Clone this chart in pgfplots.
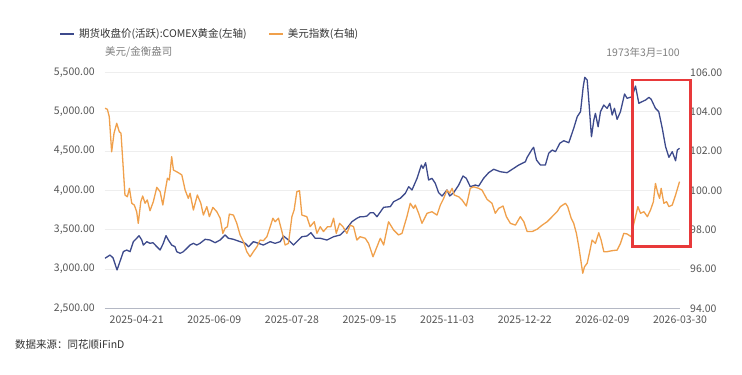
\documentclass[border=0pt]{standalone}
\usepackage{fontspec}
\setmainfont{Noto Sans CJK SC}
\usepackage{pgfplots}
\pgfplotsset{compat=1.18}
\definecolor{goldc}{HTML}{3D4A8C}
\definecolor{usdc}{HTML}{F0A04B}
\definecolor{tickc}{HTML}{555555}
\definecolor{gridc}{HTML}{EEEEEE}
\definecolor{axisc}{HTML}{B4B8C4}
\definecolor{boxred}{HTML}{E8393A}
\definecolor{legc}{HTML}{333333}
\definecolor{unitc}{HTML}{808080}

\pgfplotstableread{
d v
0 3136
3.2 3177
5.1 3140
7.6 2987
11.6 3220
13.7 3241
15.8 3220
17.9 3347
20.0 3390
21.5 3423
23.2 3368
24.2 3304
26.4 3347
28.4 3326
30.3 3334
32.7 3283
34.8 3241
36.8 3326
38.5 3423
40.0 3368
42.1 3304
44.2 3283
45.3 3220
47.4 3199
49.5 3220
51.6 3262
53.7 3304
55.8 3326
57.9 3304
60.0 3326
63.2 3377
66.3 3368
69.5 3334
72.7 3368
75.8 3432
77.9 3390
81.1 3377
85.3 3347
88.5 3326
90.6 3283
93.7 3347
96.9 3326
100.0 3304
104.3 3347
107.4 3326
110.6 3347
112.7 3419
115.8 3368
119.0 3304
121.1 3347
124.3 3410
127.5 3419
130.0 3461
132.7 3390
135.9 3390
140.1 3368
144.3 3410
148.5 3432
152.7 3517
155.9 3601
159.0 3644
161.1 3664
163.2 3664
165.4 3673
167.5 3715
169.5 3715
171.7 3664
175.9 3784
180.1 3792
182.2 3855
186.4 3898
189.6 3962
191.7 4046
193.8 4004
197.0 4152
199.7 4321
200.8 4279
202.4 4351
204.3 4131
206.4 4152
208.5 4089
210.6 3970
212.8 3927
215.9 4004
217.6 3927
220.1 3970
223.3 4067
226.0 4182
228.1 4152
230.6 4046
233.8 4067
235.9 4054
239.0 4152
242.2 4224
245.4 4267
249.6 4236
253.8 4224
258.0 4279
261.2 4321
265.4 4363
266.5 4419
269.6 4521
270.6 4546
272.4 4385
274.9 4321
278.0 4321
280.1 4470
282.3 4512
284.4 4491
287.1 4597
289.6 4630
292.8 4605
295.9 4788
298.1 4935
300.2 4999
301.9 5317
302.9 5436
304.4 5402
305.4 5148
307.1 4681
308.6 4893
309.6 4978
311.3 4808
312.8 4999
314.9 5084
317.0 5042
318.7 5106
320.2 4957
321.6 5042
323.3 4902
325.4 4999
328.0 5224
329.6 5169
332.8 5190
334.9 5326
337.0 5106
339.1 5127
341.3 5148
343.4 5182
344.8 5157
347.5 5042
349.6 4999
351.8 4788
353.9 4554
356.0 4419
358.1 4491
360.2 4376
361.3 4512
362.7 4534
}\golddata

\pgfplotstableread{
d v
0 104.17
1.5 104.12
2.7 103.74
4.2 101.96
5.7 102.90
7.4 103.41
9.0 102.98
10.1 102.90
11.6 101.03
12.6 99.76
14.1 99.67
15.4 100.10
16.9 99.34
18.5 99.25
20.0 98.91
21.0 98.32
22.6 99.42
23.8 99.71
25.3 99.34
26.7 99.51
28.4 98.96
30.5 99.42
32.7 100.15
34.8 99.93
36.5 99.25
37.9 99.93
39.4 100.61
40.6 100.52
42.1 101.71
43.2 101.03
45.3 100.94
47.0 100.86
48.5 100.78
50.6 100.01
52.6 99.59
53.7 99.85
55.8 99.00
58.3 99.76
60.5 99.34
62.1 98.74
64.3 99.17
65.9 98.66
68.1 99.13
70.6 98.91
72.7 98.58
74.4 97.81
75.8 98.07
77.3 98.15
78.5 98.79
81.1 98.74
83.2 98.32
85.3 97.73
87.4 97.39
89.5 96.88
91.6 96.62
93.7 96.88
95.9 97.13
97.9 97.47
100.0 97.44
102.2 97.64
104.3 98.15
106.0 98.58
107.4 98.40
109.5 98.58
111.7 97.90
113.7 97.22
115.8 97.30
118.0 98.66
119.4 99.00
121.1 99.93
122.8 99.98
124.3 98.74
127.4 98.66
129.5 98.15
132.1 98.40
133.8 97.81
135.9 98.15
137.9 97.90
140.5 98.15
142.6 98.15
144.3 98.58
146.0 97.81
148.1 98.32
150.2 98.15
152.7 97.81
154.8 98.23
156.9 98.15
159.0 97.47
161.1 97.64
164.3 97.56
166.4 97.30
169.2 96.62
171.7 97.13
173.8 97.56
175.9 97.22
179.0 98.40
182.2 97.98
185.3 97.73
187.5 97.81
190.6 98.66
192.7 99.34
194.8 99.08
195.9 99.25
198.0 98.83
200.1 98.32
203.3 98.83
206.4 98.91
209.6 98.74
211.7 99.25
213.8 99.59
215.9 100.01
217.6 99.85
219.1 100.10
220.5 99.76
223.3 99.67
225.4 99.51
228.1 99.20
230.6 100.10
232.7 100.18
235.9 100.10
238.0 100.01
241.2 99.54
244.3 99.34
246.4 98.83
248.5 99.08
251.3 99.20
253.4 98.66
255.9 98.32
259.1 98.23
262.2 98.66
264.4 98.40
266.5 97.90
269.6 97.90
272.8 98.02
276.0 98.23
279.1 98.40
282.3 98.66
285.4 98.91
287.5 99.17
290.7 99.34
292.1 99.17
294.3 98.58
295.9 98.32
297.6 97.81
299.1 97.13
300.2 96.54
301.6 95.78
302.7 96.11
304.4 96.29
306.0 96.88
307.5 97.47
309.6 97.30
311.7 97.84
313.2 97.47
314.9 96.88
317.0 96.88
320.2 96.93
323.3 96.96
325.4 97.30
327.5 97.81
329.6 97.78
332.2 97.64
333.4 98.15
334.9 98.66
336.4 99.17
338.1 98.83
340.2 98.91
342.4 98.66
344.4 99.00
346.2 99.42
347.5 100.35
349.0 99.85
350.1 99.59
351.1 100.10
352.8 99.34
354.5 99.42
356.0 99.17
358.1 99.25
360.2 99.76
362.7 100.44
}\usddata

\begin{document}
\begin{tikzpicture}[x=1pt,y=1pt]
\useasboundingbox[fill=white] (0,0) rectangle (742,375);
\pgfplotsset{
  common/.style={
    at={(105pt,66.7pt)}, anchor=south west,
    scale only axis, width=575pt, height=236pt,
    xmin=0, xmax=363,
    major tick length=0pt,
    tick label style={font=\fontsize{10.5}{12}\selectfont, text=tickc, inner sep=0pt},
    scaled y ticks=false,
    /pgf/number format/.cd, fixed, fixed zerofill, precision=2, 1000 sep={,}, assume math mode=true,
    /pgfplots/.cd,
  }
}
\begin{axis}[common,
  ymin=2500, ymax=5500, ytick={2500,3000,...,5500},
  axis x line*=bottom, axis y line*=left,
  y axis line style={draw=none},
  x axis line style={draw=axisc, line width=1.5pt},
  ymajorgrids, major grid style={draw=gridc, line width=0.8pt},
  xtick={20,69,118,167,216,265,314,363},
  xticklabels={2025-04-21,2025-06-09,2025-07-28,2025-09-15,2025-11-03,2025-12-22,2026-02-09,2026-03-30},
  xticklabel style={anchor=north, yshift=-7pt},
  yticklabel style={anchor=east, xshift=-10pt},
]
\addplot[goldc, line width=1.3pt, line join=round] table[x=d,y=v] {\golddata};
\end{axis}
\begin{axis}[common,
  ymin=94, ymax=106, ytick={94,96,...,106},
  axis y line*=right, hide x axis,
  y axis line style={draw=none},
  yticklabel style={anchor=west, xshift=10pt},
  legend columns=2,
  legend style={at={(-0.08,1.1623)}, anchor=west, draw=none, fill=none,
    font=\fontsize{10.5}{12}\selectfont, text=legc, inner sep=0pt,
    /tikz/every odd column/.append style={column sep=4pt},
    /tikz/every even column/.append style={column sep=22pt},
    nodes={inner sep=0pt, anchor=west}},
  legend image code/.code={\draw[#1] (0pt,0pt) -- (14pt,0pt);},
]
\addlegendimage{goldc, line width=2pt}
\addlegendentry{期货收盘价(活跃):COMEX黄金(左轴)}
\addplot[usdc, line width=1.3pt, line join=round] table[x=d,y=v] {\usddata};
\addlegendentry{美元指数(右轴)}
\end{axis}
\draw[boxred, line width=2.5pt] (632.5,128.5) rectangle (690.5,295);
\node[anchor=west, inner sep=0pt, text=unitc, font=\fontsize{10.5}{12}\selectfont] at (105,322.7) {美元/金衡盎司};
\node[anchor=east, inner sep=0pt, text=unitc, font=\fontsize{10.5}{12}\selectfont] at (680,322.7) {1973年3月=100};
\node[anchor=west, inner sep=0pt, text=legc, font=\fontsize{10.5}{12}\selectfont] at (15,30) {数据来源：同花顺iFinD};
\end{tikzpicture}
\end{document}
